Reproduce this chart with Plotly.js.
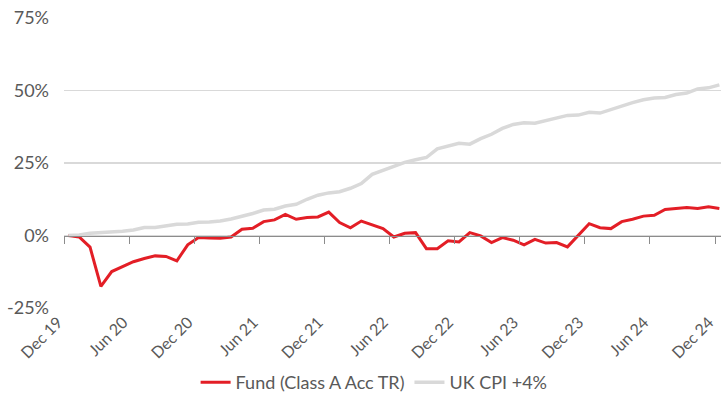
<!DOCTYPE html>
<html>
<head>
<meta charset="utf-8">
<script src="https://cdn.plot.ly/plotly-3.0.1.min.js"></script>
<style>html,body{margin:0;padding:0;background:#fff;}#chart{width:721px;height:401px;}</style>
</head>
<body>
<div id="chart"></div>
<script>
// Monthly index, Dec 19 (0) to Dec 24 (60)
const months = Array.from({length: 61}, (_, i) => i);

const fund = [
  0.0, -0.5, -4.0, -17.5, -12.4, -10.7, -9.0, -7.9, -7.0, -7.2,
  -8.7, -3.2, -0.7, -0.8, -0.9, -0.5, 2.2, 2.5, 4.8, 5.4,
  7.3, 5.6, 6.2, 6.4, 8.1, 4.5, 2.7, 5.0, 3.7, 2.4,
  -0.5, 0.8, 1.0, -4.5, -4.5, -1.8, -2.2, 1.0, -0.1, -2.4,
  -0.7, -1.6, -3.2, -1.3, -2.6, -2.4, -3.9, 0.1, 4.1, 2.7,
  2.4, 4.8, 5.6, 6.7, 7.0, 9.0, 9.3, 9.7, 9.3, 9.9,
  9.3
];

const cpi = [
  0.0, 0.2, 0.8, 1.0, 1.1, 1.5, 1.9, 2.8, 2.8, 3.5,
  3.9, 4.0, 4.6, 4.7, 5.0, 5.7, 6.6, 7.6, 8.8, 9.1,
  10.2, 10.8, 12.5, 13.9, 14.7, 15.1, 16.3, 17.9, 21.1, 22.5,
  23.8, 25.2, 26.1, 26.9, 29.9, 30.9, 31.8, 31.5, 33.4, 34.9,
  36.9, 38.3, 38.9, 38.7, 39.6, 40.8, 41.4, 41.5, 42.5, 42.2,
  43.5, 44.8, 45.8, 46.8, 47.4, 47.6, 48.6, 49.1, 50.5, 50.9,
  51.9
];

const tickLabels = ["Dec 19", "Jun 20", "Dec 20", "Jun 21", "Dec 21", "Jun 22",
                    "Dec 22", "Jun 23", "Dec 23", "Jun 24", "Dec 24"];
const tickPos = tickLabels.map((_, k) => 6 * k - 0.4);

const seriesNames = ["Fund (Class A Acc TR)", "UK CPI +4%"];

const FONT = "Lato, 'Open Sans', sans-serif";
const TXT = "#595959";

const traces = [
  {
    x: months, y: fund, name: seriesNames[0], type: "scatter", mode: "lines",
    line: {color: "#e31e26", width: 3}, xaxis: "x", yaxis: "y"
  },
  {
    x: months, y: cpi, name: seriesNames[1], type: "scatter", mode: "lines",
    line: {color: "#d9d9d9", width: 3.5}, xaxis: "x", yaxis: "y"
  },
  {
    x: [0], y: [null], showlegend: false, hoverinfo: "skip", type: "scatter",
    mode: "lines", xaxis: "x2", yaxis: "y"
  }
];

const xr = [-0.4, 60.15];

const layout = {
  width: 721, height: 401,
  margin: {l: 64, r: 0, t: 17, b: 90},
  paper_bgcolor: "#ffffff", plot_bgcolor: "#ffffff",
  font: {family: FONT, size: 18, color: TXT},
  showlegend: true,
  legend: {
    orientation: "h", x: 0.472, xanchor: "center", y: -0.252, yanchor: "middle",
    font: {family: FONT, size: 18, color: TXT}, itemwidth: 30, traceorder: "normal"
  },
  xaxis: {
    range: xr, tickmode: "array", tickvals: tickPos, ticktext: tickLabels,
    tickangle: -45, showgrid: false, zeroline: false, showline: false, ticks: "",
    ticklabeloverflow: "allow", ticklabelshift: -6,
    tickfont: {family: FONT, size: 16, color: TXT}, fixedrange: true
  },
  xaxis2: {
    range: xr, overlaying: "x", anchor: "free", position: 0.2505,
    tickmode: "array", tickvals: tickPos, showticklabels: false,
    ticks: "outside", ticklen: 7, tickwidth: 1, tickcolor: "#8c8c8c",
    showline: true, linecolor: "#8c8c8c", linewidth: 1.5,
    showgrid: false, zeroline: false, fixedrange: true
  },
  yaxis: {
    range: [-25.3, 75.3], tickmode: "array", tickvals: [-25, 0, 25, 50, 75],
    ticktext: ["-25%", "0%", "25%", "50%", "75%"],
    showgrid: true, gridcolor: "#d9d9d9", gridwidth: 1.5,
    zeroline: false, showline: false, ticks: "", ticklabelstandoff: 14,
    tickfont: {family: FONT, size: 18, color: TXT}, fixedrange: true
  }
};

Plotly.newPlot("chart", traces, layout, {displayModeBar: false, staticPlot: true});
</script>
</body>
</html>
